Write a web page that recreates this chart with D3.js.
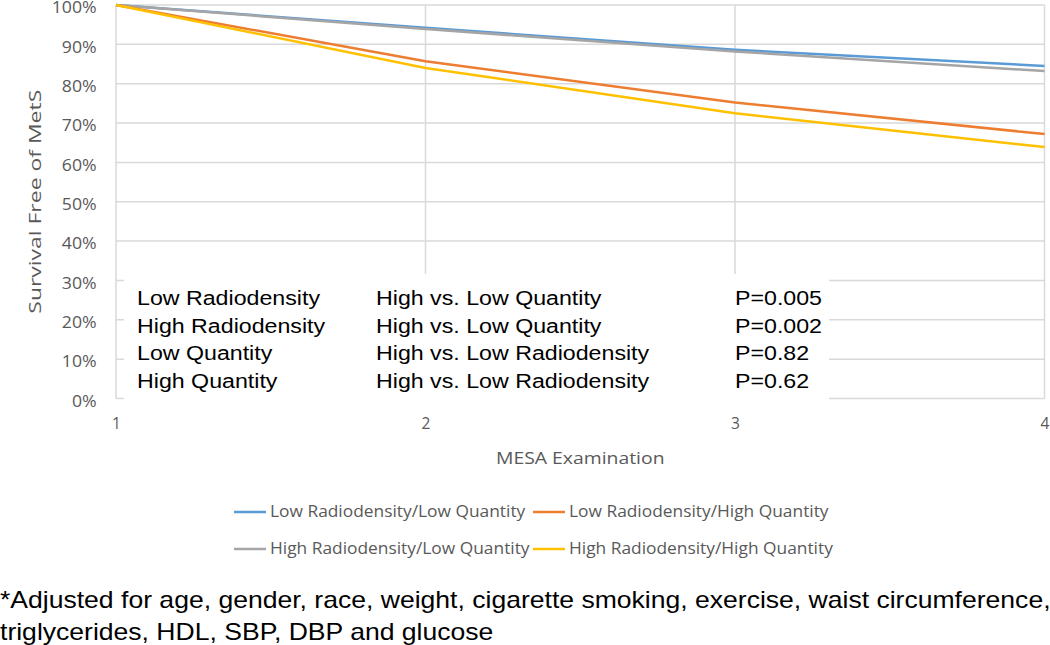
<!DOCTYPE html>
<html>
<head>
<meta charset="utf-8">
<script src="https://cdn.jsdelivr.net/npm/d3@7"></script>
<style>
  html, body { margin: 0; padding: 0; background: #fff; }
  svg { display: block; }
</style>
</head>
<body>
<svg id="chart" width="1050" height="645"></svg>
<script>
// ---- data ----
const exams = [1, 2, 3, 4];
const seriesNames = [
  "Low Radiodensity/Low Quantity",
  "Low Radiodensity/High Quantity",
  "High Radiodensity/Low Quantity",
  "High Radiodensity/High Quantity"
];
const lowRDLowQ   = [100, 94.2, 88.6, 84.5];
const lowRDHighQ  = [100, 85.7, 75.2, 67.2];
const highRDLowQ  = [100, 93.9, 88.2, 83.2];
const highRDHighQ = [100, 84.0, 72.5, 63.9];
const seriesColors = ["#5B9BD5", "#ED7D31", "#A5A5A5", "#FFC000"];
const yTicks = [0, 10, 20, 30, 40, 50, 60, 70, 80, 90, 100];
const xTicks = [1, 2, 3, 4];
const pCol1 = ["Low Radiodensity", "High Radiodensity", "Low Quantity", "High Quantity"];
const pCol2 = ["High vs. Low Quantity", "High vs. Low Quantity", "High vs. Low Radiodensity", "High vs. Low Radiodensity"];
const pCol3 = ["P=0.005", "P=0.002", "P=0.82", "P=0.62"];
const footnote = [
  "*Adjusted for age, gender, race, weight, cigarette smoking, exercise, waist circumference,",
  "triglycerides, HDL, SBP, DBP and glucose"
];

(function () {
const seriesValues = [lowRDLowQ, lowRDHighQ, highRDLowQ, highRDHighQ];
const series = seriesNames.map((n, i) => ({ name: n, color: seriesColors[i], values: seriesValues[i] }));

const svg = d3.select("#chart");
const pLeft = 116, pRight = 1044.5, pTop = 5, pBottom = 398.5;
const SX = 1.14; // horizontal text stretch seen in the reference

const x = d3.scaleLinear().domain([1, 4]).range([pLeft, pRight]);
const y = d3.scaleLinear().domain([0, 100]).range([pBottom, pTop]);

const axisFont = "'Open Sans', sans-serif";
const gridColor = "#D9D9D9";
const textColor = "#595959";

// horizontal gridlines
svg.append("g").selectAll("line").data(yTicks).join("line")
  .attr("x1", pLeft).attr("x2", pRight)
  .attr("y1", d => y(d)).attr("y2", d => y(d))
  .attr("stroke", gridColor).attr("stroke-width", 1.5);

// vertical gridlines
svg.append("g").selectAll("line").data(xTicks.slice(1)).join("line")
  .attr("x1", d => x(d)).attr("x2", d => x(d))
  .attr("y1", pTop).attr("y2", pBottom)
  .attr("stroke", gridColor).attr("stroke-width", 1.5);

// left axis line
svg.append("line").attr("x1", pLeft).attr("x2", pLeft).attr("y1", pTop).attr("y2", pBottom)
  .attr("stroke", gridColor).attr("stroke-width", 1.5);

// y axis labels
const yAxis = d3.axisLeft(y).tickValues(yTicks).tickFormat(d => d + "%").tickSize(0).tickPadding(17);
const gy = svg.append("g").attr("transform", `translate(${pLeft},0)`).call(yAxis);
gy.select(".domain").remove();
gy.selectAll("text").attr("font-family", axisFont).attr("font-size", 15.5).attr("fill", textColor)
  .attr("dy", "0.5em").attr("transform", `scale(${SX},1)`);

// x axis labels
const xAxis = d3.axisBottom(x).tickValues(xTicks).tickFormat(d3.format("d")).tickSize(0).tickPadding(19);
const gx = svg.append("g").attr("transform", `translate(0,${pBottom})`).call(xAxis);
gx.select(".domain").remove();
gx.selectAll("text").attr("font-family", axisFont).attr("font-size", 15.5).attr("fill", textColor);

// axis titles
svg.append("text").attr("transform", `translate(${(pLeft + pRight) / 2},464) scale(${SX},1)`)
  .attr("text-anchor", "middle").attr("font-family", axisFont).attr("font-size", 17)
  .attr("fill", textColor).text("MESA Examination");
svg.append("text").attr("transform", `translate(41,${(pTop + pBottom) / 2}) rotate(-90) scale(1.35,1)`)
  .attr("text-anchor", "middle").attr("font-family", axisFont).attr("font-size", 17)
  .attr("fill", textColor).text("Survival Free of MetS");

// lines
const line = d3.line().x((d, i) => x(exams[i])).y(d => y(d));
const drawOrder = [0, 2, 1, 3];
svg.append("g").selectAll("path").data(drawOrder.map(i => series[i])).join("path")
  .attr("d", d => line(d.values))
  .attr("fill", "none").attr("stroke", d => d.color).attr("stroke-width", 2.5)
  .attr("stroke-linejoin", "round");

// text box (white, covers gridlines)
svg.append("rect").attr("x", 124).attr("y", 274).attr("width", 705).attr("height", 128).attr("fill", "#fff");
const rowY = [298, 325.5, 353, 381];
const colX = [137, 376, 735];
const pg = svg.append("g").attr("font-family", "'Liberation Sans', Arial, sans-serif").attr("font-size", 20).attr("fill", "#000");
[pCol1, pCol2, pCol3].forEach((col, ci) => {
  pg.append("g").selectAll("text").data(col).join("text")
    .attr("transform", (d, i) => `translate(${colX[ci]},${rowY[i]}) scale(1.16,1)`)
    .attr("dy", "0.35em").text(d => d);
});

// legend
const legX = [234, 533];
const legY = [512, 549];
const lg = svg.append("g");
series.forEach((s, i) => {
  const cx = legX[i % 2], cy = legY[Math.floor(i / 2)];
  lg.append("line").attr("x1", cx).attr("x2", cx + 32).attr("y1", cy).attr("y2", cy)
    .attr("stroke", s.color).attr("stroke-width", 2.5);
  lg.append("text").attr("transform", `translate(${cx + 36},${cy}) scale(1.12,1)`).attr("dy", "0.35em")
    .attr("font-family", axisFont).attr("font-size", 15.5).attr("fill", textColor).text(s.name);
});

// footnote
svg.append("g").selectAll("text").data(footnote).join("text")
  .attr("transform", (d, i) => `translate(0,${608 + i * 32}) scale(1.155,1)`)
  .attr("font-family", "'Liberation Sans', Arial, sans-serif").attr("font-size", 23)
  .attr("fill", "#000").text(d => d);
})();
</script>
</body>
</html>
